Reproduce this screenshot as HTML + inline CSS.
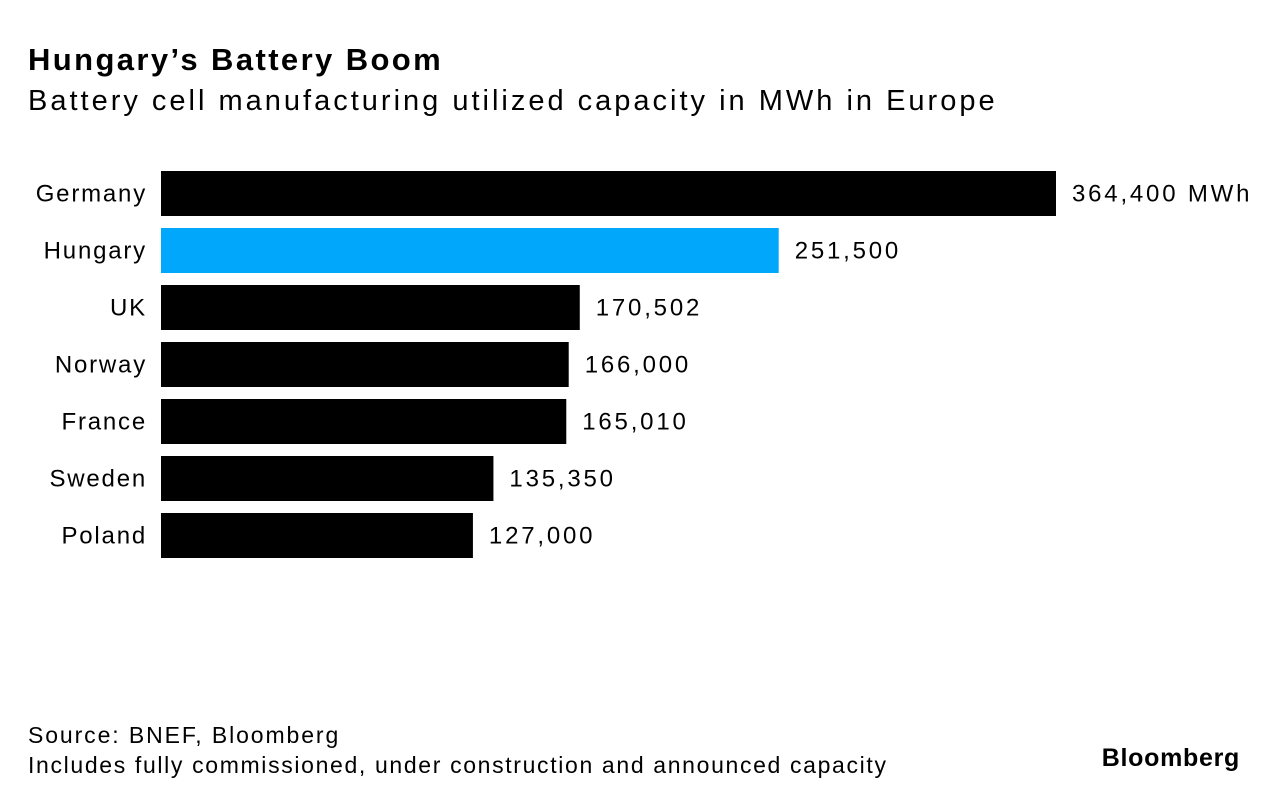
<!DOCTYPE html>
<html><head><meta charset="utf-8"><style>
body{margin:0;background:#fff;width:1280px;height:804px;overflow:hidden;font-family:"Liberation Sans",sans-serif;color:#000;position:relative}
.t{position:absolute;white-space:nowrap}
</style></head><body>
<div class="t" style="left:28px;top:42px;font-size:31px;font-weight:bold;letter-spacing:2.4px">Hungary’s Battery Boom</div>
<div class="t" style="left:28px;top:85px;font-size:29px;letter-spacing:3px">Battery cell manufacturing utilized capacity in MWh in Europe</div>
<svg id="chart" style="position:absolute;left:0;top:0" width="1280" height="804"></svg>
<div class="t" style="left:28px;top:722px;font-size:23px;letter-spacing:1.9px">Source: BNEF, Bloomberg</div>
<div class="t" style="left:28px;top:752px;font-size:23px;letter-spacing:1.65px">Includes fully commissioned, under construction and announced capacity</div>
<div class="t" style="right:40px;top:744px;font-size:25px;font-weight:bold;letter-spacing:0.7px">Bloomberg</div>
<script>
const categories=["Germany","Hungary","UK","Norway","France","Sweden","Poland"];
const values=[364400,251500,170502,166000,165010,135350,127000];
const labels=["364,400 MWh","251,500","170,502","166,000","165,010","135,350","127,000"];
const highlight="Hungary";
const svg=document.getElementById('chart');
const NS="http://www.w3.org/2000/svg";
const x0=161,x1=1056,maxV=364400;
function xs(v){return x0+(x1-x0)*v/maxV;}
function ys(i){return 171+i*57;}
const bh=45;
categories.forEach((c,i)=>{
  const r=document.createElementNS(NS,'rect');
  r.setAttribute('x',x0);r.setAttribute('y',ys(i));
  r.setAttribute('width',xs(values[i])-x0);r.setAttribute('height',bh);
  r.setAttribute('fill',c===highlight?'#00a7fa':'#000');
  
  
  svg.appendChild(r);
  const t=document.createElementNS(NS,'text');
  t.setAttribute('x',147);t.setAttribute('y',ys(i)+bh/2+8);
  t.setAttribute('text-anchor','end');t.setAttribute('font-size','24');
  t.setAttribute('letter-spacing','1.8');
  t.textContent=c;
  
  
  svg.appendChild(t);
  const v=document.createElementNS(NS,'text');
  v.setAttribute('x',xs(values[i])+16);v.setAttribute('y',ys(i)+bh/2+8);
  v.setAttribute('font-size','24');
  v.setAttribute('letter-spacing','2.8');
  v.textContent=labels[i];
  
  
  svg.appendChild(v);
});
</script>
</body></html>
